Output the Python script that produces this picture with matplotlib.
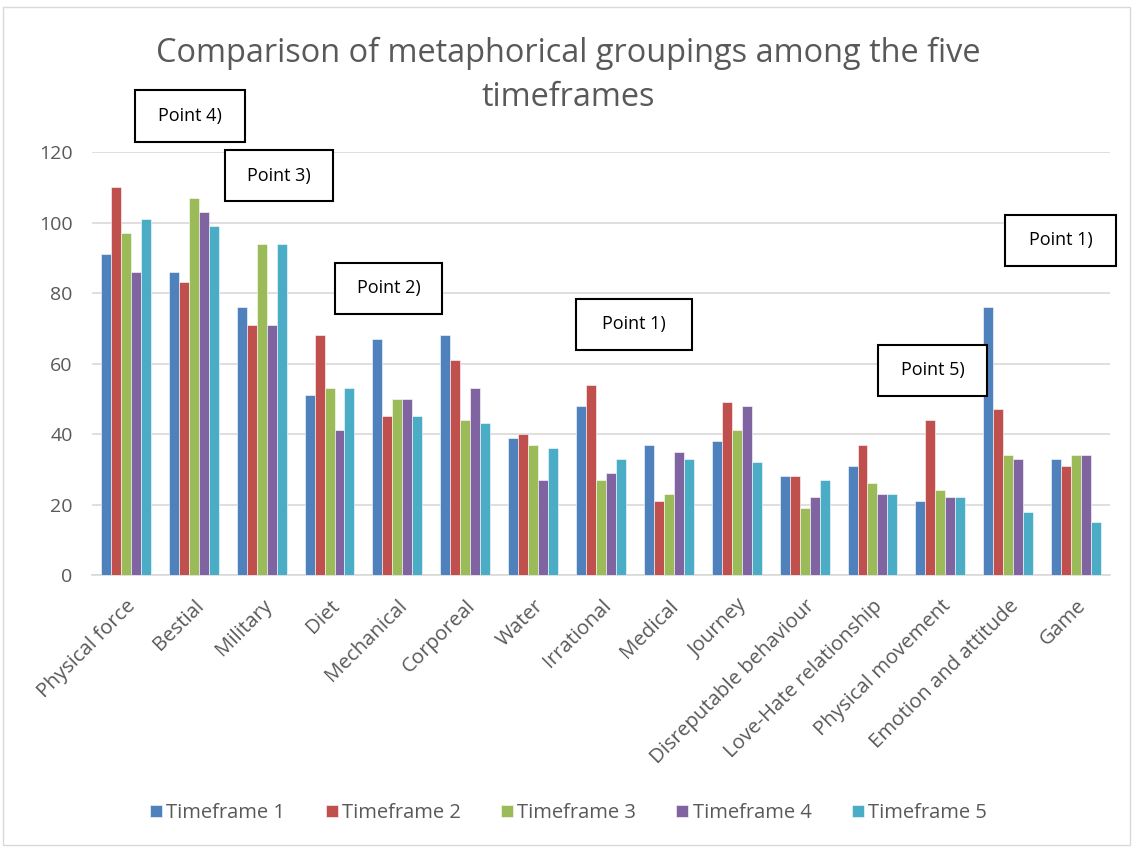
import matplotlib.pyplot as plt
import numpy as np
from matplotlib.patches import Rectangle

plt.rcParams['font.family'] = ['Open Sans', 'DejaVu Sans']

categories = ["Physical force", "Bestial", "Military", "Diet", "Mechanical", "Corporeal",
              "Water", "Irrational", "Medical", "Journey", "Disreputable behaviour",
              "Love-Hate relationship", "Physical movement", "Emotion and attitude", "Game"]
series_names = ["Timeframe 1", "Timeframe 2", "Timeframe 3", "Timeframe 4", "Timeframe 5"]
tf1 = [91, 86, 76, 51, 67, 68, 39, 48, 37, 38, 28, 31, 21, 76, 33]
tf2 = [110, 83, 71, 68, 45, 61, 40, 54, 21, 49, 28, 37, 44, 47, 31]
tf3 = [97, 107, 94, 53, 50, 44, 37, 27, 23, 41, 19, 26, 24, 34, 34]
tf4 = [86, 103, 71, 41, 50, 53, 27, 29, 35, 48, 22, 23, 22, 33, 34]
tf5 = [101, 99, 94, 53, 45, 43, 36, 33, 33, 32, 27, 23, 22, 18, 15]
colors = ["#4F81BD", "#C0504D", "#9BBB59", "#8064A2", "#4BACC6"]

# annotation boxes (label, x0, y0, x1, y1) in pixels from top-left
notes = [("Point 4)", 135, 90, 245, 142),
         ("Point 3)", 225, 150, 333, 201),
         ("Point 2)", 335, 263, 442, 314),
         ("Point 1)", 576, 299, 692, 350),
         ("Point 5)", 878, 345, 987, 396),
         ("Point 1)", 1005, 215, 1116, 266)]

W, H = 1137, 848
fig = plt.figure(figsize=(W / 100, H / 100), dpi=100)
ax = fig.add_axes([92 / W, 1 - 575 / H, (1110 - 92) / W, (575 - 152) / H])

x = np.arange(len(categories))
bw = 0.147
for i, (vals, c) in enumerate(zip([tf1, tf2, tf3, tf4, tf5], colors)):
    ax.bar(x + (i - 2) * bw, vals, bw, color=c, label=series_names[i],
           edgecolor="white", linewidth=0.4, zorder=3)

ax.set_xlim(-0.5, len(categories) - 0.5)
ax.set_ylim(0, 120)
ax.set_yticks(range(0, 121, 20))
ax.yaxis.grid(True, color="#D9D9D9", linewidth=1.2, zorder=0)
for s in ["top", "right", "left"]:
    ax.spines[s].set_visible(False)
ax.spines["bottom"].set_color("#D9D9D9")
ax.spines["bottom"].set_linewidth(1.2)
ax.tick_params(axis="both", length=0, labelsize=14, colors="#595959")
ax.tick_params(axis="y", pad=14)
ax.tick_params(axis="x", pad=15, labelsize=14.7)
ax.set_xticks(x)
ax.set_xticklabels(categories, rotation=45, ha="right", rotation_mode="anchor")

fig.text(0.5, 1 - 53 / H, "Comparison of metaphorical groupings among the five",
         ha="center", va="center", fontsize=23.4, color="#595959")
fig.text(0.5, 1 - 98 / H, "timeframes", ha="center", va="center", fontsize=23.4, color="#595959")

for label, x0, y0, x1, y1 in notes:
    fig.patches.append(Rectangle((x0 / W, 1 - y1 / H), (x1 - x0) / W, (y1 - y0) / H,
                                 transform=fig.transFigure, facecolor="white",
                                 edgecolor="black", linewidth=1.5, zorder=5))
    fig.text((x0 + x1) / 2 / W, 1 - (y0 + y1) / 2 / H, label, ha="center", va="center",
             fontsize=13, color="black", zorder=6)

fig.legend(loc="center", bbox_to_anchor=(0.5, 1 - 813 / H), ncol=5, frameon=False,
           fontsize=14.5, handlelength=0.6, handleheight=0.6, handletextpad=0.2,
           columnspacing=2.0, labelcolor="#595959")

fig.patches.append(Rectangle((3 / W, 1 - 845 / H), 1127 / W, 838 / H, transform=fig.transFigure,
                             facecolor="none", edgecolor="#D9D9D9", linewidth=1))

fig.savefig("out.png", dpi=100)
